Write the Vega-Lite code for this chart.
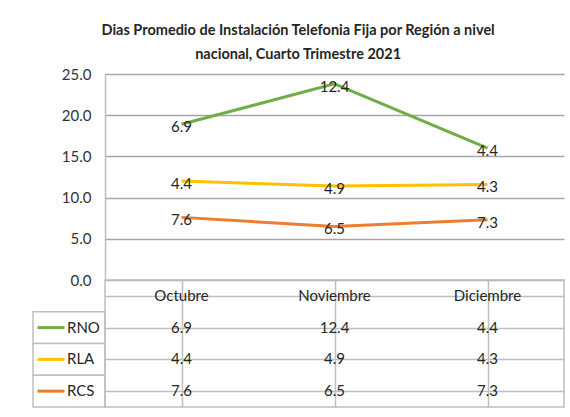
{
  "$schema": "https://vega.github.io/schema/vega-lite/v6.json",
  "background": "white",
  "padding": {"left": 31, "top": 22, "right": 8, "bottom": 5},
  "bounds": "flush",
  "title": {
    "text": ["Dias Promedio de Instalación Telefonia Fija por Región a nivel", "nacional, Cuarto Trimestre 2021"],
    "fontSize": 14.5, "font": "Lato", "fontWeight": "bold", "color": "#262626",
    "anchor": "middle", "lineHeight": 24, "offset": 5
  },
  "config": {
    "font": "Lato",
    "text": {"font": "Lato"}
  },
  "datasets": {
    "d": [
      {"series": "RNO", "month": "Octubre", "value": 6.9},
      {"series": "RNO", "month": "Noviembre", "value": 12.4},
      {"series": "RNO", "month": "Diciembre", "value": 4.4},
      {"series": "RLA", "month": "Octubre", "value": 4.4},
      {"series": "RLA", "month": "Noviembre", "value": 4.9},
      {"series": "RLA", "month": "Diciembre", "value": 4.3},
      {"series": "RCS", "month": "Octubre", "value": 7.6},
      {"series": "RCS", "month": "Noviembre", "value": 6.5},
      {"series": "RCS", "month": "Diciembre", "value": 7.3}
    ],
    "months": [
      {"month": "Octubre"}, {"month": "Noviembre"}, {"month": "Diciembre"}
    ],
    "series": [
      {"series": "RNO"}, {"series": "RLA"}, {"series": "RCS"}
    ]
  },
  "columns": 2,
  "spacing": 0,
  "resolve": {"scale": {"x": "independent", "y": "independent", "color": "independent"}},
  "concat": [
    {
      "width": 72,
      "height": 206,
      "view": {"stroke": null},
      "data": {"values": [{}]},
      "mark": {"type": "text"},
      "encoding": {"text": {"value": ""}}
    },
    {
      "width": 459,
      "height": 206,
      "view": {"stroke": null},
      "data": {"name": "d"},
      "transform": [
        {"stack": "value", "groupby": ["month"], "sort": [{"field": "series", "order": "ascending"}], "as": ["v0", "v1"]}
      ],
      "encoding": {
        "x": {"field": "month", "type": "nominal", "sort": ["Octubre", "Noviembre", "Diciembre"],
              "scale": {"paddingInner": 0, "paddingOuter": 0}, "axis": null},
        "y": {"field": "v1", "type": "quantitative",
              "scale": {"domain": [0, 25], "nice": false},
              "axis": {"title": null, "values": [0, 5, 10, 15, 20, 25], "format": ".1f",
                       "labelFontSize": 15, "labelColor": "#333333", "labelPadding": 14,
                       "ticks": false, "domain": true, "domainColor": "#BFBFBF", "domainWidth": 1.5,
                       "gridColor": "#A6A6A6", "gridWidth": 1.5, "labelFont": "Lato"}}
      },
      "layer": [
        {
          "mark": {"type": "line", "strokeWidth": 3},
          "encoding": {
            "color": {"field": "series", "type": "nominal",
                      "scale": {"domain": ["RNO", "RLA", "RCS"], "range": ["#70AD47", "#FFC000", "#ED7D31"]},
                      "legend": null}
          }
        },
        {
          "mark": {"type": "text", "fontSize": 15, "dy": 3, "color": "#262626"},
          "encoding": {"text": {"field": "value", "type": "quantitative", "format": ".1f"}, "detail": {"field": "series"}}
        }
      ]
    },
    {
      "width": 72,
      "height": 127,
      "view": {"stroke": null},
      "data": {"name": "series"},
      "encoding": {
        "y": {"field": "series", "type": "nominal",
              "scale": {"domain": ["h", "RNO", "RLA", "RCS"], "paddingInner": 0, "paddingOuter": 0},
              "axis": null}
      },
      "layer": [
        {
          "mark": {"type": "rect", "fill": "white", "stroke": "#BFBFBF", "strokeWidth": 1.5}
        },
        {
          "mark": {"type": "point", "shape": "stroke", "size": 729, "strokeWidth": 3, "filled": false, "opacity": 1, "strokeCap": "butt"},
          "encoding": {
            "x": {"datum": "k", "type": "nominal", "scale": {"domain": ["k", "n"], "paddingInner": 0, "paddingOuter": 0}, "axis": null},
            "color": {"field": "series", "type": "nominal",
                      "scale": {"domain": ["RNO", "RLA", "RCS"], "range": ["#70AD47", "#FFC000", "#ED7D31"]},
                      "legend": null}
          }
        },
        {
          "mark": {"type": "text", "fontSize": 15, "align": "left", "dx": -20, "color": "#262626"},
          "encoding": {
            "x": {"datum": "n", "type": "nominal"},
            "text": {"field": "series"}
          }
        }
      ]
    },
    {
      "width": 459,
      "height": 127,
      "view": {"stroke": "#BFBFBF", "strokeWidth": 1.5},
      "encoding": {
        "x": {"field": "month", "type": "nominal", "sort": ["Octubre", "Noviembre", "Diciembre"],
              "scale": {"paddingInner": 0, "paddingOuter": 0},
              "axis": {"title": null, "labels": false, "ticks": false, "domain": false, "grid": true,
                       "bandPosition": 0, "gridColor": "#BFBFBF", "gridWidth": 1.5}},
        "y": {"field": "series", "type": "nominal",
              "scale": {"domain": ["h", "RNO", "RLA", "RCS"], "paddingInner": 0, "paddingOuter": 0},
              "axis": {"title": null, "labels": false, "ticks": false, "domain": false, "grid": true,
                       "bandPosition": 0, "gridColor": "#BFBFBF", "gridWidth": 1.5}}
      },
      "layer": [
        {
          "data": {"name": "d"},
          "mark": {"type": "text", "fontSize": 15, "color": "#262626"},
          "encoding": {"text": {"field": "value", "type": "quantitative", "format": ".1f"}}
        },
        {
          "data": {"name": "months"},
          "mark": {"type": "text", "fontSize": 15, "color": "#262626"},
          "encoding": {"y": {"datum": "h"}, "text": {"field": "month"}}
        }
      ]
    }
  ]
}
